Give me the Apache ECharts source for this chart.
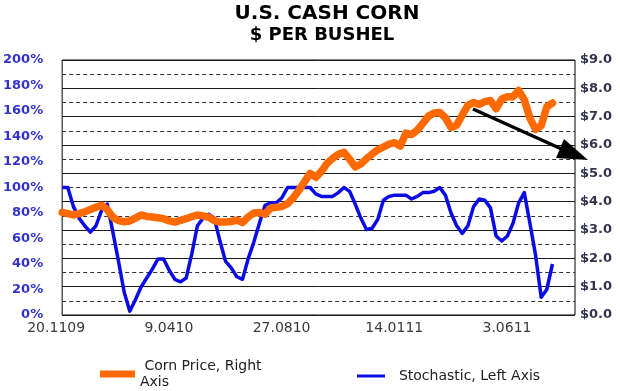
<!DOCTYPE html>
<html>
<head>
<meta charset="utf-8">
<script src="https://cdn.jsdelivr.net/npm/echarts@6/dist/echarts.min.js"></script>
<style>
html,body{margin:0;padding:0;background:#fff;}
#chart{width:620px;height:391px;}
</style>
</head>
<body>
<div id="chart"></div>
<script>
// Weekly categories starting 20 Nov 2009 (92 weeks on the axis)
const startDate = Date.UTC(2009, 10, 20);
const weekCount = 92;
const categories = [];
for (let i = 0; i < weekCount; i++) {
  const d = new Date(startDate + i * 7 * 86400000);
  const mm = String(d.getUTCMonth() + 1).padStart(2, '0');
  const yy = String(d.getUTCFullYear() % 100).padStart(2, '0');
  categories.push(d.getUTCDate() + '.' + mm + yy);
}
const tickLabels = ['20.1109', '9.0410', '27.0810', '14.0111', '3.0611'];

// Stochastic, left axis (%)
const stochastic = [100,100,85,76,70,65,70,82,87,65,
  42,18,3,12,22,29,36,44,44,35,
  28,26,29,48,70,76,79,76,58,42,
  37,30,28,44,57,72,86,88,88,92,
  100,100,100,100,100,95,93,93,93,96,
  100,97,87,76,67,68,75,90,93,94,
  94,94,91,93,96,96,97,100,94,80,
  70,64,70,85,91,90,84,62,58,62,
  72,88,96,72,47,14,20,40];

// Corn price, right axis ($ per bushel)
const cornPrice = [3.62,3.58,3.53,3.58,3.64,3.72,3.80,3.87,3.72,3.45,
  3.33,3.29,3.32,3.42,3.53,3.48,3.46,3.43,3.40,3.32,
  3.28,3.34,3.40,3.47,3.53,3.50,3.45,3.33,3.28,3.28,
  3.30,3.35,3.26,3.46,3.60,3.62,3.56,3.78,3.80,3.83,
  3.93,4.13,4.40,4.70,5.00,4.86,5.07,5.35,5.53,5.67,
  5.74,5.50,5.23,5.33,5.52,5.68,5.83,5.93,6.03,6.08,
  5.96,6.42,6.37,6.52,6.76,7.02,7.13,7.15,6.96,6.62,
  6.70,7.06,7.40,7.50,7.43,7.53,7.57,7.28,7.62,7.70,
  7.70,7.92,7.60,6.95,6.55,6.68,7.35,7.48];

const seriesNames = ['Corn Price, Right Axis', 'Stochastic, Left Axis'];

const chart = echarts.init(document.getElementById('chart'), null, {renderer: 'canvas'});
const option = {
  animation: false,
  textStyle: {fontFamily: 'DejaVu Sans'},
  title: [
    {text: 'U.S. CASH CORN', left: 322, top: -1, textAlign: 'center',
     textStyle: {fontSize: 20, fontWeight: 'bold', color: '#000', fontFamily: 'DejaVu Sans'}},
    {text: '$ PER BUSHEL', left: 317, top: 21, textAlign: 'center',
     textStyle: {fontSize: 18, fontWeight: 'bold', color: '#000', fontFamily: 'DejaVu Sans'}}
  ],
  grid: {left: 61, right: 45, top: 60, bottom: 76, show: true, borderColor: '#000', borderWidth: 1},
  legend: [
    {data: [seriesNames[0]], left: 100, top: 358, padding: 0, icon: 'rect', itemWidth: 35, itemHeight: 7,
     formatter: function () { return ' Corn Price, Right\nAxis'; },
     textStyle: {fontSize: 14, color: '#222', lineHeight: 16, fontFamily: 'DejaVu Sans'}},
    {data: [seriesNames[1]], left: 357, top: 369, padding: 0, icon: 'rect', itemWidth: 28, itemHeight: 3,
     formatter: function (n) { return '  ' + n; },
     textStyle: {fontSize: 14, color: '#222', fontFamily: 'DejaVu Sans'}}
  ],
  xAxis: {
    type: 'category', data: categories, boundaryGap: false,
    axisLine: {show: false}, axisTick: {show: false}, splitLine: {show: false},
    axisLabel: {
      interval: function (idx, val) { return tickLabels.indexOf(val) >= 0; },
      margin: 6, fontSize: 14, color: '#3a3a3a', padding: [0, 12, 0, 0], fontFamily: 'DejaVu Sans'
    }
  },
  yAxis: [
    {type: 'value', min: 0, max: 200, interval: 20, position: 'left',
     axisLine: {show: false}, axisTick: {show: false}, splitLine: {show: false},
     axisLabel: {formatter: '{value}%', margin: 19, fontSize: 13, fontWeight: 'bold', color: '#3333CC', fontFamily: 'DejaVu Sans'}},
    {type: 'value', min: 0, max: 9, interval: 1, position: 'right',
     axisLine: {show: false}, axisTick: {show: false},
     splitLine: {show: true, lineStyle: {color: '#1a1a1a', width: 1}},
     minorTick: {show: false, splitNumber: 2},
     minorSplitLine: {show: true, lineStyle: {color: '#333', width: 1, type: [4, 3]}},
     axisLabel: {formatter: function (v) { return '$' + v.toFixed(1); }, margin: 5, fontSize: 13, fontWeight: 'bold', color: '#33334d', fontFamily: 'DejaVu Sans'}}
  ],
  series: [
    {name: seriesNames[1], type: 'line', yAxisIndex: 0, data: stochastic, symbol: 'none',
     lineStyle: {color: '#0b0be6', width: 3.5, join: 'round'}, itemStyle: {color: '#0b0be6'}, z: 2},
    {name: seriesNames[0], type: 'line', yAxisIndex: 1, data: cornPrice, symbol: 'none',
     lineStyle: {color: '#ff6a00', width: 7.5, join: 'round', cap: 'round'}, itemStyle: {color: '#ff6a00'}, z: 3}
  ],
  graphic: [
    {type: 'line', shape: {x1: 473, y1: 109, x2: 566, y2: 151}, style: {stroke: '#000', lineWidth: 3.5}, z: 100},
    {type: 'polygon', shape: {points: [[588, 160], [564, 139], [556, 158]]}, style: {fill: '#000'}, z: 100}
  ]
};
chart.setOption(option);
</script>
</body>
</html>
